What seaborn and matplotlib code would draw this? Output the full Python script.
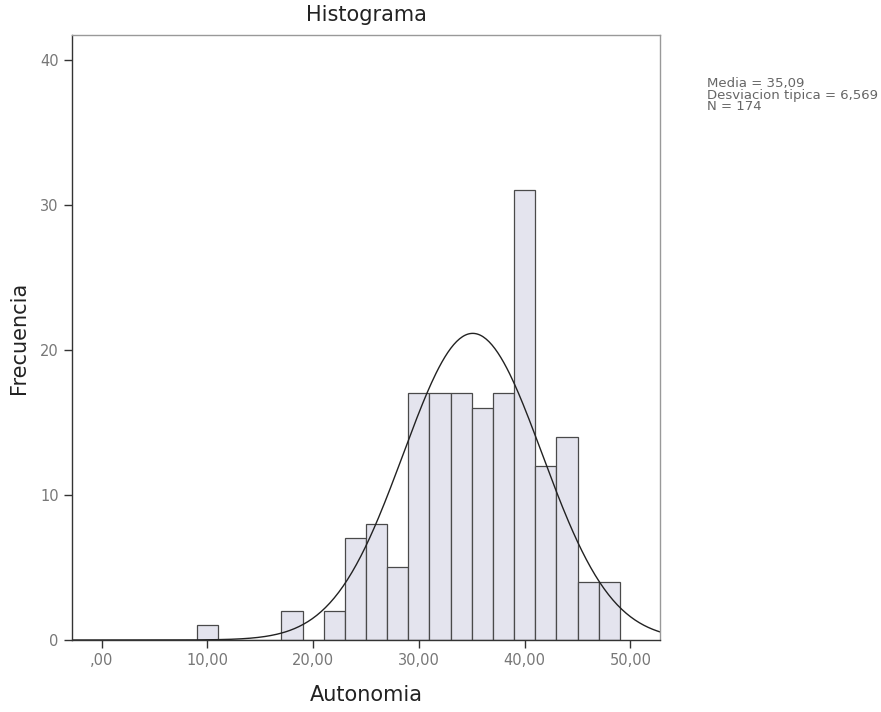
import numpy as np
import pandas as pd
import matplotlib
matplotlib.use("Agg")
import matplotlib.pyplot as plt
import seaborn as sns

# Data (bin centres, width 2)
bin_centers = [10, 18, 22, 24, 26, 28, 30, 32, 34, 36, 38, 40, 42, 44, 46, 48]
counts = [1, 2, 2, 7, 8, 5, 17, 17, 17, 16, 17, 31, 12, 14, 4, 4]
bin_width = 2
mean_val = 35.09
sd_val = 6.569
n_val = 174
x_ticks = [0, 10, 20, 30, 40, 50]
x_tick_labels = [",00", "10,00", "20,00", "30,00", "40,00", "50,00"]
y_ticks = [0, 10, 20, 30, 40]
y_tick_labels = ["0", "10", "20", "30", "40"]

sns.set_style("white")
plt.rcParams['font.family'] = ['DejaVu Sans']

df = pd.DataFrame({"Autonomia": bin_centers, "count": counts})

fig = plt.figure(figsize=(8.81, 7.12), dpi=100)
ax = fig.add_axes([72/881, 1 - 640/712, (660-72)/881, (640-35)/712])

sns.histplot(data=df, x="Autonomia", weights="count", binwidth=bin_width,
             binrange=(9, 49), ax=ax,
             color="#e4e4ee", edgecolor="#4a4a4a", linewidth=0.9, alpha=1)

xlo, xhi = -2.8, 52.8
xs = np.linspace(xlo, xhi, 400)
ys = n_val * bin_width * np.exp(-0.5 * ((xs - mean_val) / sd_val) ** 2) / (sd_val * np.sqrt(2 * np.pi))
sns.lineplot(x=xs, y=ys, ax=ax, color="#222222", linewidth=1.0)

ax.set_xlim(xlo, xhi)
ax.set_ylim(0, 41.7)
ax.set_xticks(x_ticks)
ax.set_xticklabels(x_tick_labels)
ax.set_yticks(y_ticks)
ax.set_yticklabels(y_tick_labels)
ax.tick_params(axis="both", which="both", direction="out", length=6, width=1,
               colors="#333333", labelcolor="#777777", labelsize=10.5, left=True, bottom=True)
for s in ax.spines.values():
    s.set_visible(True)
    s.set_color("#333333")
    s.set_linewidth(1.0)
ax.spines["top"].set_color("#999999")
ax.spines["right"].set_color("#999999")

ax.set_xlabel("Autonomia", fontsize=15, color="#222222", labelpad=12)
ax.set_ylabel("Frecuencia", fontsize=15, color="#222222", labelpad=8)
ax.set_title("Histograma", fontsize=15, color="#222222", pad=10)

fig.text(707/881, 1 - 77/712,
         "Media = 35,09\nDesviacion tipica = 6,569\nN = 174",
         fontsize=9.5, color="#666666", va="top", ha="left", linespacing=0.85)

fig.savefig("out.png", dpi=100)
